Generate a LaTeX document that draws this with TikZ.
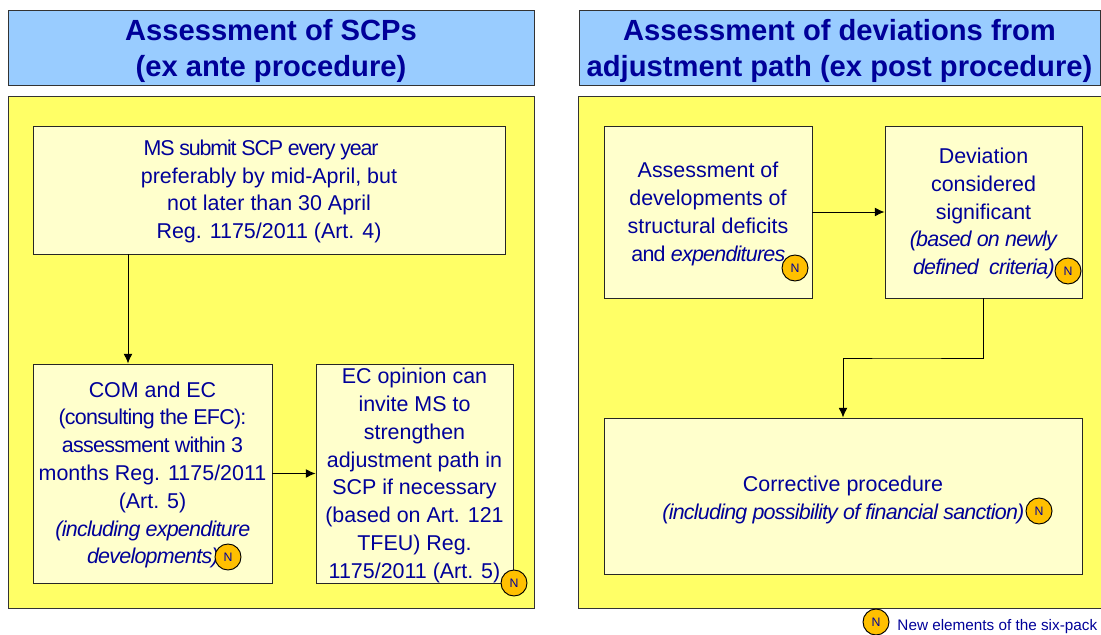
\documentclass[tikz,border=0pt]{standalone}
\usepackage{fontspec}
\usetikzlibrary{arrows.meta}
\setmainfont{Liberation Sans}
\definecolor{headblue}{HTML}{99CCFF}
\definecolor{panelyellow}{HTML}{FFFF66}
\definecolor{boxyellow}{HTML}{FFFFCC}
\definecolor{newgold}{HTML}{FFC000}
\definecolor{inkblue}{HTML}{000099}
\newcommand{\tight}[2][-3.5]{{\addfontfeatures{LetterSpace=#1}#2}}
\newcommand{\drop}[1]{\rule{0pt}{#1}}
\begin{document}
\begin{tikzpicture}[line width=0.55pt,every text node part/.style={align=center},
    header/.style={draw=black!80,fill=headblue,text=inkblue,font=\fontsize{16.6}{20.4}\selectfont\bfseries,inner sep=0pt},
    panel/.style={draw=black!80,fill=panelyellow},
    stepbox/.style={draw=black!85,fill=boxyellow,text=inkblue,font=\fontsize{12.2}{15.8}\selectfont,inner sep=0pt},
    newmark/.style={circle,draw=black,fill=newgold,text=inkblue,minimum size=0.52cm,inner sep=0pt,font=\fontsize{7}{8}\selectfont},
    link/.style={-{Latex[length=5.5pt,width=5pt]}}]

    \useasboundingbox (0,0) rectangle (22.02,12.7);

    % --------------------------------------------------------- %
    % ------------- ex ante side
    % --------------------------------------------------------- %
    \node[header,minimum width=10.52cm,minimum height=1.5cm] (anteHead) at (5.42,11.75) {\drop{16pt}Assessment of SCPs\\(ex ante procedure)};
    \node[panel,minimum width=10.52cm,minimum height=10.24cm] (antePanel) at (5.42,5.66) {};

    \node[stepbox,minimum width=9.44cm,minimum height=2.56cm] (submit) at (5.38,8.9) {\drop{10.5pt}\tight[-5.5]{MS submit SCP every year}\hspace*{9pt}\\preferably by mid-April, but\\not later than 30 April\\Reg. 1175/2011 (Art. 4)};
    \node[stepbox,minimum width=4.78cm,minimum height=4.38cm] (assess) at (3.05,3.23) {\drop{10.5pt}COM and EC\\\tight{(consulting the EFC):}\\\tight{assessment within 3}\\months Reg. 1175/2011\\(Art. 5)\\\tight{\textit{(including expenditure}}\\\tight{\textit{developments)}}};
    \node[stepbox,minimum width=3.94cm,minimum height=4.38cm] (opinion) at (8.29,3.23) {\drop{11pt}EC opinion can\\invite MS to\\strengthen\\adjustment path in\\SCP if necessary\\(based on Art. 121\\TFEU) Reg.\\1175/2011 (Art. 5)};

    \draw[link] ([xshift=-0.49cm]assess.north |- submit.south) to ([xshift=-0.49cm]assess.north);
    \draw[link] (assess) to (opinion);

    \node[newmark] (newAssess) at (4.56,1.56) {N};
    \node[newmark] (newOpinion) at (10.28,1.04) {N};

    % --------------------------------------------------------- %
    % ------------ ex post side
    % --------------------------------------------------------- %
    \node[header,minimum width=10.42cm,minimum height=1.5cm] (postHead) at (16.79,11.75) {\drop{16pt}Assessment of deviations from\\adjustment path (ex post procedure)};
    \node[panel,minimum width=10.46cm,minimum height=10.24cm] (postPanel) at (16.79,5.66) {};

    \node[stepbox,minimum width=4.16cm,minimum height=3.44cm] (develop) at (14.16,8.46) {\drop{11pt}Assessment of\\developments of\\structural deficits\\\tight{and \textit{expenditures}}};
    \node[stepbox,minimum width=3.94cm,minimum height=3.44cm] (deviation) at (19.67,8.46) {\drop{10.5pt}Deviation\\considered\\significant\\\tight{\textit{(based on newly}}\\\tight{\textit{defined ~criteria)}}};
    \node[stepbox,minimum width=9.56cm,minimum height=3.12cm] (corrective) at (16.86,2.78) {\drop{13pt}Corrective procedure\\\tight{\textit{(including possibility of financial sanction)}}};

    \coordinate (elbow) at (18,5.54);
    \draw[link] (develop) to (deviation);
    \draw[link] (deviation.south) |- (elbow) -| (corrective.north);

    \node[newmark] (newDevelop) at (15.9,7.34) {N};
    \node[newmark] (newDeviation) at (21.36,7.28) {N};
    \node[newmark] (newCorrective) at (20.78,2.48) {N};

    % --------------------------------------------------------- %
    % ------------ legend
    % --------------------------------------------------------- %
    \node[newmark] (newLegend) at (17.52,0.26) {N};
    \node[text=inkblue,font=\fontsize{8.7}{10}\selectfont,anchor=west,inner sep=0pt] (legend) at (17.94,0.17) {New elements of the six-pack};

  \end{tikzpicture}
\end{document}
